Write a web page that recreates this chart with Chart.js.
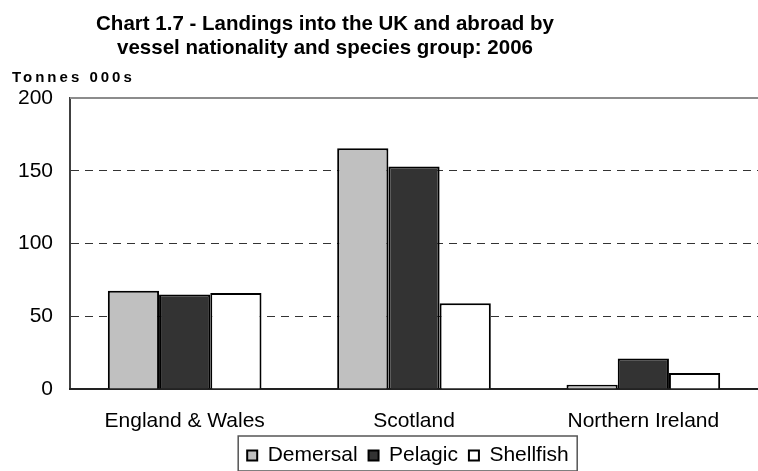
<!DOCTYPE html>
<html>
<head>
<meta charset="utf-8">
<script src="https://cdn.jsdelivr.net/npm/chart.js@4/dist/chart.umd.min.js"></script>
<style>
  html, body { margin: 0; padding: 0; background: #fff; }
  #wrap { width: 758px; height: 471px; }
</style>
</head>
<body>
<div id="wrap"><canvas id="landings" width="758" height="471"></canvas></div>
<script>
// data (tonnes 000s)
const regions = ['England & Wales', 'Scotland', 'Northern Ireland'];
const demersal = [67.5, 165.5, 3];
const pelagic = [65, 153, 21];
const shellfish = [66, 59, 11];
const titleLines = ['Chart 1.7 - Landings into the UK and abroad by', 'vessel nationality and species group: 2006'];
const unitLabel = 'Tonnes 000s';

const FONT = '"Liberation Sans", Arial, sans-serif';

// title, unit label, top frame line and the box round the legend
const extras = {
    id: 'extras',
    afterLayout(chart) {
        // legend sits off centre in the original, under the plot area
        const lg = chart.legend;
        lg.left += 29; lg.right += 29;
    },
    afterDraw(chart) {
        const ctx = chart.ctx;
        const area = chart.chartArea;
        ctx.save();
        // top border of plot area
        ctx.strokeStyle = '#8c8c8c';
        ctx.lineWidth = 2;
        ctx.beginPath();
        ctx.moveTo(area.left, area.top);
        ctx.lineTo(area.right, area.top);
        ctx.stroke();

        // title
        ctx.fillStyle = '#000';
        ctx.textAlign = 'center';
        ctx.textBaseline = 'alphabetic';
        ctx.font = 'bold 20.5px ' + FONT;
        ctx.fillText(titleLines[0], 325, 30);
        ctx.fillText(titleLines[1], 325, 54);

        // unit
        ctx.textAlign = 'left';
        ctx.font = 'bold 15px ' + FONT;
        ctx.letterSpacing = '3px';
        ctx.fillText(unitLabel, 12, 81.5);
        ctx.letterSpacing = '0px';

        // legend frame
        const lg = chart.legend;
        const pad = lg.options.labels.padding;
        const rowStart = (lg.left + pad + lg.right - lg.lineWidths[0]) / 2;
        ctx.strokeStyle = '#555';
        ctx.lineWidth = 1.5;
        ctx.strokeRect(rowStart - 9, lg.top + 2, 339, 35);
        ctx.restore();
    }
};

const ctx = document.getElementById('landings').getContext('2d');
const landingsChart = new Chart(ctx, {
    type: 'bar',
    data: {
        labels: regions,
        datasets: [{
            label: 'Demersal',
            data: demersal,
            backgroundColor: '#c0c0c0',
            borderColor: '#000',
            borderWidth: 2
        },
        {
            label: 'Pelagic',
            data: pelagic,
            backgroundColor: '#333333',
            borderColor: '#000',
            borderWidth: 2
        },
        {
            label: 'Shellfish',
            data: shellfish,
            backgroundColor: '#ffffff',
            borderColor: '#000',
            borderWidth: 2
        }]
    },
    options: {
        responsive: false,
        animation: false,
        datasets: {
            bar: {
                barPercentage: 1,
                categoryPercentage: 0.67
            }
        },
        layout: {
            padding: {
                top: 98,
                left: 0,
                right: 0,
                bottom: -5
            }
        },
        plugins: {
            title: { display: false },
            tooltip: { enabled: false },
            legend: {
                position: 'bottom',
                labels: {
                    color: '#000',
                    font: { family: FONT, size: 21 },
                    boxWidth: 10,
                    boxHeight: 10,
                    padding: 11
                }
            }
        },
        scales: {
            y: {
                min: 0,
                max: 200,
                afterFit: function(scale) { scale.width = 70; },
                ticks: {
                    stepSize: 50,
                    color: '#000',
                    padding: 17,
                    font: { family: FONT, size: 21 }
                },
                grid: {
                    drawTicks: false,
                    lineWidth: 1,
                    color: function(c) {
                        const v = c.tick ? c.tick.value : null;
                        return (v === 0 || v === 200) ? 'rgba(0,0,0,0)' : '#333';
                    }
                },
                border: {
                    color: '#404040',
                    width: 2,
                    dash: [8, 6]
                }
            },
            x: {
                afterFit: function(scale) { scale.height = 45; },
                ticks: {
                    color: '#000',
                    padding: 20,
                    font: { family: FONT, size: 21 }
                },
                grid: {
                    display: false,
                    drawTicks: false
                },
                border: {
                    color: '#222',
                    width: 2
                }
            }
        }
    },
    plugins: [extras]
});
</script>
</body>
</html>
